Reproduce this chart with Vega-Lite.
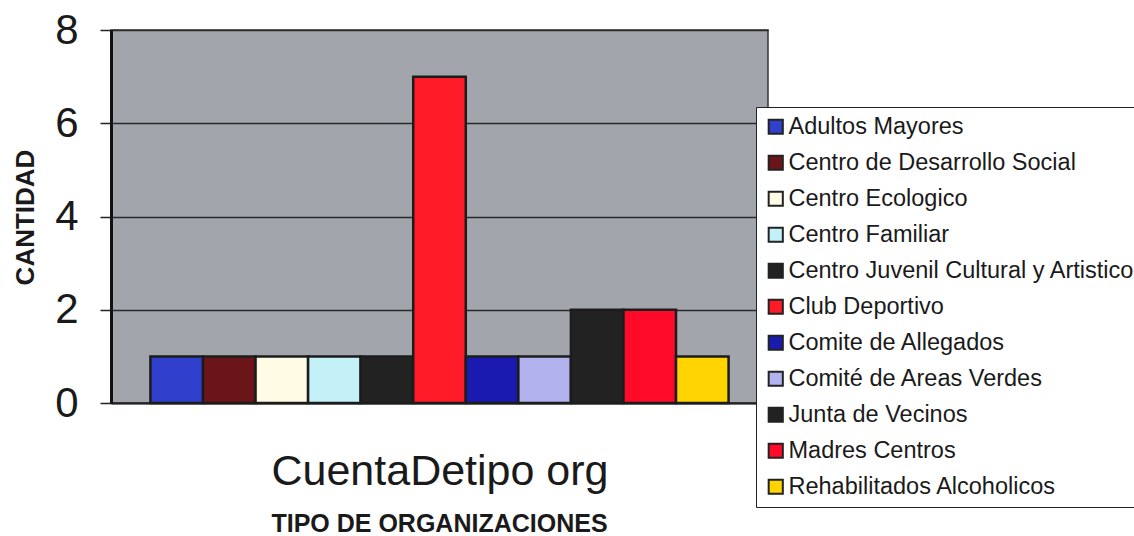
{
  "$schema": "https://vega.github.io/schema/vega-lite/v6.json",
  "autosize": "none",
  "width": 657,
  "height": 373,
  "padding": {"left": 111, "top": 30, "right": 366, "bottom": 133},
  "background": "white",
  "data": {
    "values": [
      {"tipo": "Adultos Mayores", "cantidad": 1},
      {"tipo": "Centro de Desarrollo Social", "cantidad": 1},
      {"tipo": "Centro Ecologico", "cantidad": 1},
      {"tipo": "Centro Familiar", "cantidad": 1},
      {"tipo": "Centro Juvenil Cultural y Artistico", "cantidad": 1},
      {"tipo": "Club Deportivo", "cantidad": 7},
      {"tipo": "Comite de Allegados", "cantidad": 1},
      {"tipo": "Comité de Areas Verdes", "cantidad": 1},
      {"tipo": "Junta de Vecinos", "cantidad": 2},
      {"tipo": "Madres Centros", "cantidad": 2},
      {"tipo": "Rehabilitados Alcoholicos", "cantidad": 1}
    ]
  },
  "config": {
    "font": "Liberation Sans",
    "view": {"fill": "#a2a6ac", "stroke": "#333333", "strokeWidth": 1.5}
  },
  "title": {
    "text": "TIPO DE ORGANIZACIONES",
    "orient": "bottom",
    "anchor": "middle",
    "fontSize": 25,
    "fontWeight": "bold",
    "color": "#1a1a1a",
    "offset": 4
  },
  "mark": {"type": "bar", "stroke": "#1c1c1c", "strokeWidth": 2.5},
  "encoding": {
    "x": {
      "field": "tipo",
      "type": "nominal",
      "sort": null,
      "scale": {"paddingInner": 0, "paddingOuter": 0.75},
      "axis": {
        "title": "CuentaDetipo org",
        "titleFontSize": 43,
        "titleFontWeight": "normal",
        "titleColor": "#1a1a1a",
        "titlePadding": 47,
        "labels": false,
        "ticks": false,
        "domainColor": "#222222",
        "domainWidth": 2
      }
    },
    "y": {
      "field": "cantidad",
      "type": "quantitative",
      "scale": {"domain": [0, 8], "nice": false},
      "axis": {
        "title": "CANTIDAD",
        "titleFontSize": 26,
        "titleFontWeight": "bold",
        "titleColor": "#1a1a1a",
        "titleX": -78,
        "titleY": 187,
        "titleAngle": -90,
        "titleAlign": "center",
        "titleBaseline": "alphabetic",
        "values": [0, 2, 4, 6, 8],
        "labelFontSize": 42,
        "labelColor": "#1a1a1a",
        "labelPadding": 22,
        "tickColor": "#222222",
        "tickSize": 11,
        "tickWidth": 1.5,
        "domainColor": "#111111",
        "domainWidth": 3,
        "grid": true,
        "gridColor": "#2a2a2a",
        "gridWidth": 1.5,
        "gridOpacity": 1
      }
    },
    "color": {
      "field": "tipo",
      "type": "nominal",
      "sort": null,
      "scale": {
        "domain": ["Adultos Mayores", "Centro de Desarrollo Social", "Centro Ecologico", "Centro Familiar", "Centro Juvenil Cultural y Artistico", "Club Deportivo", "Comite de Allegados", "Comité de Areas Verdes", "Junta de Vecinos", "Madres Centros", "Rehabilitados Alcoholicos"],
        "range": ["#3040cc", "#6c1518", "#fffbe4", "#c4f0f8", "#222222", "#ff1a28", "#1a1ab0", "#b2b2ee", "#222222", "#ff0a28", "#ffd400"]
      },
      "legend": {
        "title": null,
        "orient": "none",
        "legendX": 645,
        "legendY": 77,
        "fillColor": "white",
        "strokeColor": "#222222",
        "padding": 8,
        "labelFontSize": 23.5,
        "labelColor": "#1a1a1a",
        "labelLimit": 400,
        "labelOffset": 1,
        "symbolType": "square",
        "symbolSize": 200,
        "symbolStrokeColor": "#222222",
        "symbolStrokeWidth": 2,
        "symbolOpacity": 1,
        "rowPadding": 11,
        "encode": {
          "symbols": {
            "update": {
              "stroke": {"value": "#222222"},
              "strokeWidth": {"value": 2},
              "opacity": {"value": 1}
            }
          }
        }
      }
    }
  }
}
